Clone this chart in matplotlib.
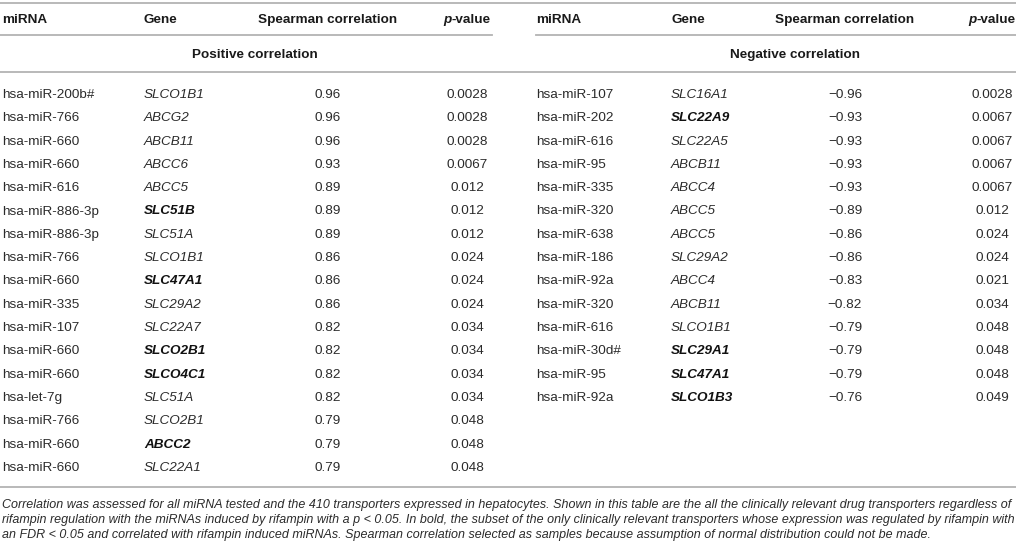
import matplotlib
matplotlib.use("Agg")
import matplotlib.pyplot as plt
from matplotlib import font_manager

# ---- data ----
pos_mirna = ["hsa-miR-200b#", "hsa-miR-766", "hsa-miR-660", "hsa-miR-660", "hsa-miR-616",
             "hsa-miR-886-3p", "hsa-miR-886-3p", "hsa-miR-766", "hsa-miR-660", "hsa-miR-335",
             "hsa-miR-107", "hsa-miR-660", "hsa-miR-660", "hsa-let-7g", "hsa-miR-766",
             "hsa-miR-660", "hsa-miR-660"]
pos_gene = ["SLCO1B1", "ABCG2", "ABCB11", "ABCC6", "ABCC5", "SLC51B", "SLC51A", "SLCO1B1",
            "SLC47A1", "SLC29A2", "SLC22A7", "SLCO2B1", "SLCO4C1", "SLC51A", "SLCO2B1",
            "ABCC2", "SLC22A1"]
pos_rho = [0.96, 0.96, 0.96, 0.93, 0.89, 0.89, 0.89, 0.86, 0.86, 0.86, 0.82, 0.82, 0.82,
           0.82, 0.79, 0.79, 0.79]
pos_p = ["0.0028", "0.0028", "0.0028", "0.0067", "0.012", "0.012", "0.012", "0.024", "0.024",
         "0.024", "0.034", "0.034", "0.034", "0.034", "0.048", "0.048", "0.048"]
pos_bold_rows = [5, 8, 11, 12, 15]

neg_mirna = ["hsa-miR-107", "hsa-miR-202", "hsa-miR-616", "hsa-miR-95", "hsa-miR-335",
             "hsa-miR-320", "hsa-miR-638", "hsa-miR-186", "hsa-miR-92a", "hsa-miR-320",
             "hsa-miR-616", "hsa-miR-30d#", "hsa-miR-95", "hsa-miR-92a"]
neg_gene = ["SLC16A1", "SLC22A9", "SLC22A5", "ABCB11", "ABCC4", "ABCC5", "ABCC5", "SLC29A2",
            "ABCC4", "ABCB11", "SLCO1B1", "SLC29A1", "SLC47A1", "SLCO1B3"]
neg_rho = [-0.96, -0.93, -0.93, -0.93, -0.93, -0.89, -0.86, -0.86, -0.83, -0.82, -0.79,
           -0.79, -0.79, -0.76]
neg_p = ["0.0028", "0.0067", "0.0067", "0.0067", "0.0067", "0.012", "0.024", "0.024",
         "0.021", "0.034", "0.048", "0.048", "0.048", "0.049"]
neg_bold_rows = [1, 11, 12, 13]

headers = ["miRNA", "Gene", "Spearman correlation", "p", "-value"]
sections = ["Positive correlation", "Negative correlation"]
caption = [
    "Correlation was assessed for all miRNA tested and the 410 transporters expressed in hepatocytes. "
    "Shown in this table are the all the clinically relevant drug transporters regardless of",
    "rifampin regulation with the miRNAs induced by rifampin with a p < 0.05. In bold, the subset of "
    "the only clinically relevant transporters whose expression was regulated by rifampin with",
    "an FDR < 0.05 and correlated with rifampin induced miRNAs. Spearman correlation selected as "
    "samples because assumption of normal distribution could not be made.",
]

# ---- fonts ----
names = {f.name for f in font_manager.fontManager.ttflist}
main_font = "Liberation Sans" if "Liberation Sans" in names else "DejaVu Sans"
cap_font = "Liberation Sans Narrow" if "Liberation Sans Narrow" in names else main_font
plt.rcParams["font.family"] = [main_font, "DejaVu Sans"]

W, H = 1016, 547
fig = plt.figure(figsize=(W / 100, H / 100), dpi=100)
ax = fig.add_axes([0, 0, 1, 1])
ax.set_xlim(0, W)
ax.set_ylim(H, 0)
ax.axis("off")
r = fig.canvas.get_renderer()

fs = 9.7
txt = "#2b2b2b"
head_c = "#1a1a1a"
line_c = "#b3b3b3"
lw = 1.3

row0, dy = 95, 23.3
y_head, y_sec = 20, 55

# column geometry: (miRNA left, Gene left, rho center, p center)
cols = [(2, 144, 328, 467), (536, 671, 845, 992)]
sec_x = [255, 795]

# rules
ax.plot([0, W], [3, 3], color=line_c, lw=lw)
ax.plot([0, 492], [35, 35], color=line_c, lw=lw)
ax.plot([536, W], [35, 35], color=line_c, lw=lw)
ax.plot([0, W], [72, 72], color=line_c, lw=lw)
ax.plot([0, W], [487, 487], color=line_c, lw=lw)

tables = [(pos_mirna, pos_gene, pos_rho, pos_p, pos_bold_rows),
          (neg_mirna, neg_gene, neg_rho, neg_p, neg_bold_rows)]

for k, (mir, gene, rho, pv, brows) in enumerate(tables):
    c1, c2, c3, c4 = cols[k]
    ax.text(c1, y_head, headers[0], ha="left", va="center", fontsize=fs, weight="bold", color=head_c)
    ax.text(c2, y_head, headers[1], ha="left", va="center", fontsize=fs, weight="bold", color=head_c)
    ax.text(c3, y_head, headers[2], ha="center", va="center", fontsize=fs, weight="bold", color=head_c)
    # "p-value" with italic p, centred on the column
    pt = ax.text(0, y_head, headers[3], ha="left", va="center", fontsize=fs, weight="bold",
                 style="italic", color=head_c)
    vt = ax.text(0, y_head, headers[4], ha="left", va="center", fontsize=fs, weight="bold",
                 color=head_c)
    wp = pt.get_window_extent(r).width
    wv = vt.get_window_extent(r).width
    x0 = c4 - (wp + wv) / 2
    pt.set_x(x0)
    vt.set_x(x0 + wp)
    ax.text(sec_x[k], y_sec, sections[k], ha="center", va="center", fontsize=fs,
            weight="bold", color=head_c)
    for i in range(len(mir)):
        y = row0 + i * dy
        ax.text(c1, y, mir[i], ha="left", va="center", fontsize=fs, color=txt)
        b = i in brows
        ax.text(c2, y, gene[i], ha="left", va="center", fontsize=fs, style="italic",
                weight="bold" if b else "normal", color="#111111" if b else txt)
        ax.text(c3, y, f"{rho[i]:.2f}".replace("-", "\u2212"), ha="center", va="center",
                fontsize=fs, color=txt)
        ax.text(c4, y, pv[i], ha="center", va="center", fontsize=fs, color=txt)

# caption, sized to fill the width
cap_y = [505, 520, 535]
cap_fs = 9.0
probe = ax.text(2, cap_y[0], caption[0], fontsize=cap_fs, family=cap_font, style="italic")
wpx = probe.get_window_extent(r).width
probe.remove()
cap_fs = cap_fs * 1010 / wpx
for s, y in zip(caption, cap_y):
    ax.text(2, y, s, ha="left", va="center", fontsize=cap_fs, family=cap_font,
            style="italic", color=txt)

fig.savefig("out.png", dpi=100)
